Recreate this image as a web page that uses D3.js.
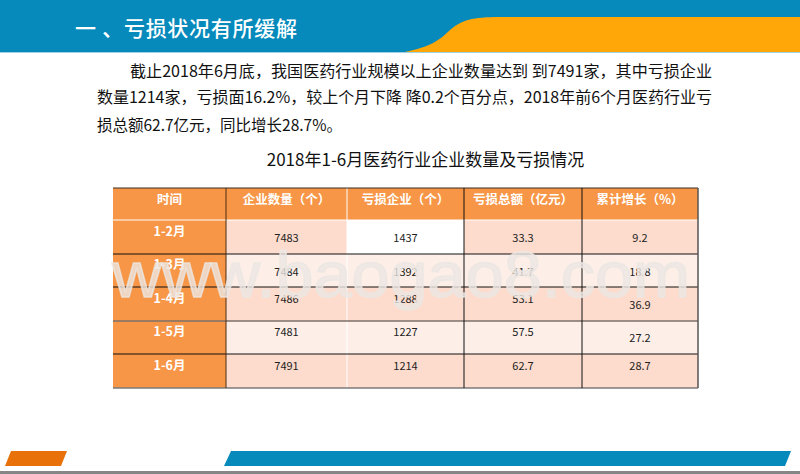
<!DOCTYPE html>
<html>
<head>
<meta charset="utf-8">
<script src="https://cdn.jsdelivr.net/npm/d3@7"></script>
<style>
  html, body { margin: 0; padding: 0; background: #fff; }
  svg { display: block; }
  text { font-family: "Noto Sans CJK SC", "Noto Sans", sans-serif; }
</style>
</head>
<body>
<div class="chart-area"></div>
<script>
// table data
const columns = ["时间", "企业数量（个）", "亏损企业（个）", "亏损总额（亿元）", "累计增长（%）"];
const months = ["1-2月", "1-3月", "1-4月", "1-5月", "1-6月"];
const companies = ["7483", "7484", "7486", "7481", "7491"];
const lossCompanies = ["1437", "1392", "1288", "1227", "1214"];
const lossTotal = ["33.3", "41.7", "53.1", "57.5", "62.7"];
const growth = ["9.2", "18.8", "36.9", "27.2", "28.7"];

const pageTitle = "一 、亏损状况有所缓解";
const bodyLines = [
  "截止2018年6月底，我国医药行业规模以上企业数量达到 到7491家，其中亏损企业",
  "数量1214家，亏损面16.2%，较上个月下降 降0.2个百分点，2018年前6个月医药行业亏",
  "损总额62.7亿元，同比增长28.7%。"
];
const tableTitle = "2018年1-6月医药行业企业数量及亏损情况";
const watermark = "www.baogao8.com";

const width = 800, height = 474;
const svg = d3.select(".chart-area").append("svg")
  .attr("width", width).attr("height", height);

// header band
svg.append("rect").attr("width", width).attr("height", 52).attr("fill", "#058abb");
svg.append("path")
  .attr("d", "M405,52 C430,47 440,40 450,30 C462,20 472,17 500,17 L800,17 L800,52 Z")
  .attr("fill", "#ffa608");
svg.append("rect").attr("y", 52).attr("width", width).attr("height", 1).attr("fill", "#9fd3e4");
svg.append("text").attr("x", 75).attr("y", 36)
  .attr("textLength", 222).attr("lengthAdjust", "spacing")
  .attr("font-size", 21).attr("font-weight", 500).attr("fill", "#fff").text(pageTitle);

// paragraph
const lineX = [130, 97, 97], lineY = [77, 103, 131], lineLen = [582, 615, 245];
svg.selectAll(".para").data(bodyLines).join("text")
  .attr("class", "para")
  .attr("x", (d, i) => lineX[i])
  .attr("y", (d, i) => lineY[i])
  .attr("font-size", 15.5).attr("fill", "#111")
  .attr("textLength", (d, i) => lineLen[i])
  .attr("lengthAdjust", "spacingAndGlyphs")
  .text(d => d);

svg.append("text").attr("x", 425.5).attr("y", 166).attr("text-anchor", "middle")
  .attr("font-size", 17).attr("fill", "#111").text(tableTitle);

// table
const colEdges = [113, 226, 347, 464, 582, 698];
const rowEdges = [188, 220, 254, 287, 321, 354, 388];
const x = d3.scaleOrdinal().domain(d3.range(6)).range(colEdges);
const y = d3.scaleOrdinal().domain(d3.range(7)).range(rowEdges);

const rows = months.map((m, i) => [m, companies[i], lossCompanies[i], lossTotal[i], growth[i]]);
const rowFill = ["#fddccd", "#fdefe8", "#fddccd", "#fdefe8", "#fddccd"];

const table = svg.append("g");

// body cells
rows.forEach((row, r) => {
  row.forEach((val, c) => {
    let fill = c === 0 ? "#f79646" : rowFill[r];
    if (r === 0 && c === 2) fill = "#ffffff";
    table.append("rect")
      .attr("x", x(c)).attr("y", y(r + 1))
      .attr("width", x(c + 1) - x(c)).attr("height", y(r + 2) - y(r + 1))
      .attr("fill", fill);
  });
});

// header cells
columns.forEach((col, c) => {
  table.append("rect")
    .attr("x", x(c)).attr("y", y(0))
    .attr("width", x(c + 1) - x(c)).attr("height", y(1) - y(0))
    .attr("fill", "#f79646");
});

// grid lines
const vLine = (xx, y1, y2, color, w) => table.append("line")
  .attr("x1", xx).attr("x2", xx).attr("y1", y1).attr("y2", y2)
  .attr("stroke", color).attr("stroke-width", w);
const hLine = (yy, x1, x2, color, w) => table.append("line")
  .attr("x1", x1).attr("x2", x2).attr("y1", yy).attr("y2", yy)
  .attr("stroke", color).attr("stroke-width", w);

hLine(y(1), x(0), x(5), "#fff", 1);
vLine(x(2), y(0), y(6), "#fff", 1);
[2, 3, 5].forEach(i => hLine(y(i), x(0), x(5), "#111", 1));
hLine(y(4), x(0), x(5), "#7d706a", 1.5);
hLine(y(0), x(0), x(5), "#3a2a20", 1);
hLine(y(6), x(0), x(5), "#7a7a7a", 1.5);
vLine(x(1), y(0), y(6), "#4a2c14", 1);
vLine(x(3), y(0), y(6), "#111", 1);
vLine(x(4), y(0), y(6), "#111", 1);
vLine(x(5), y(0), y(6), "#555", 1.5);

// header text
table.selectAll(".head").data(columns).join("text")
  .attr("class", "head")
  .attr("x", (d, i) => (x(i) + x(i + 1)) / 2)
  .attr("y", 204)
  .attr("text-anchor", "middle").attr("font-size", 12.5).attr("font-weight", 700)
  .attr("fill", "#fff")
  .text(d => d);

// row labels and values (centres, rows sit unevenly)
const labelY = [232, 265, 299, 332, 366];
const valueY = [238, 272, 299, 332, 366];
const growthY = [238, 272, 305, 338, 366];
rows.forEach((row, r) => {
  row.forEach((val, c) => {
    const cy = c === 0 ? labelY[r] : c === 4 ? growthY[r] : valueY[r];
    table.append("text")
      .attr("x", (x(c) + x(c + 1)) / 2)
      .attr("y", cy)
      .attr("dy", "0.35em")
      .attr("text-anchor", "middle")
      .attr("font-size", c === 0 ? 12.5 : 11)
      .attr("font-weight", c === 0 ? 700 : 400)
      .attr("fill", c === 0 ? "#fff" : "#222")
      .text(val);
  });
});

// watermark
svg.append("text")
  .attr("x", 401).attr("y", 297)
  .attr("text-anchor", "middle")
  .attr("textLength", 578).attr("lengthAdjust", "spacingAndGlyphs")
  .attr("font-size", 64)
  .attr("style", "font-family:'Liberation Sans',sans-serif")
  .attr("fill", "#ebe6e2").attr("fill-opacity", 0.8)
  .attr("stroke", "#ebe6e2").attr("stroke-opacity", 0.8).attr("stroke-width", 1.5)
  .text(watermark);

// footer
svg.append("path").attr("d", "M11,451 L67,451 L61,466 L5,466 Z").attr("fill", "#e8710a");
svg.append("path").attr("d", "M231,451 L791,451 L785,466 L224,466 Z").attr("fill", "#058abb");
svg.append("rect").attr("y", 471).attr("width", width).attr("height", 3).attr("fill", "#868686");
</script>
</body>
</html>
